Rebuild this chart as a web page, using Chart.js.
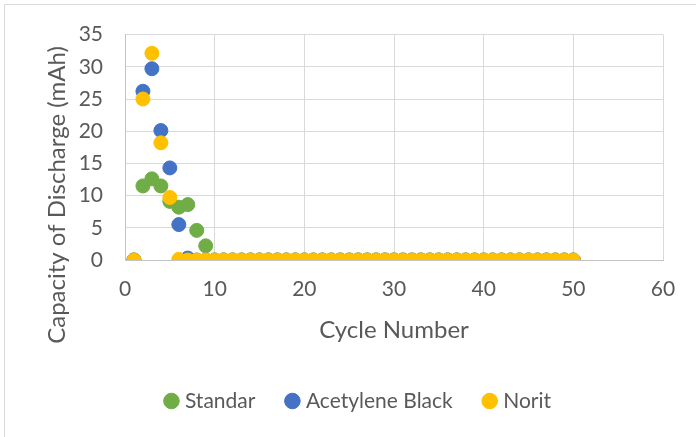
<!DOCTYPE html>
<html>
<head>
<meta charset="utf-8">
<title>Capacity of Discharge vs Cycle Number</title>
<script src="https://cdn.jsdelivr.net/npm/chart.js@4/dist/chart.umd.min.js"></script>
<style>
  html, body { margin: 0; padding: 0; background: #ffffff; }
  #wrap { width: 696px; height: 437px; }
</style>
</head>
<body>
<div id="wrap"><canvas id="chart" width="696" height="437"></canvas></div>
<script>
// Cycle numbers shared by all three cells
const cycles = [
   1,  2,  3,  4,  5,  6,  7,  8,  9, 10,
  11, 12, 13, 14, 15, 16, 17, 18, 19, 20,
  21, 22, 23, 24, 25, 26, 27, 28, 29, 30,
  31, 32, 33, 34, 35, 36, 37, 38, 39, 40,
  41, 42, 43, 44, 45, 46, 47, 48, 49, 50
];

// Discharge capacity (mAh) per cycle
const standar = [
  0, 11.5, 12.6, 11.5, 9.1, 8.2, 8.6, 4.6, 2.2, 0,
  0, 0, 0, 0, 0, 0, 0, 0, 0, 0,
  0, 0, 0, 0, 0, 0, 0, 0, 0, 0,
  0, 0, 0, 0, 0, 0, 0, 0, 0, 0,
  0, 0, 0, 0, 0, 0, 0, 0, 0, 0
];
const acetyleneBlack = [
  0, 26.2, 29.7, 20.1, 14.3, 5.5, 0.3, 0, 0, 0,
  0, 0, 0, 0, 0, 0, 0, 0, 0, 0,
  0, 0, 0, 0, 0, 0, 0, 0, 0, 0,
  0, 0, 0, 0, 0, 0, 0, 0, 0, 0,
  0, 0, 0, 0, 0, 0, 0, 0, 0, 0
];
const norit = [
  0, 25.0, 32.1, 18.2, 9.7, 0.1, 0, 0, 0, 0,
  0, 0, 0, 0, 0, 0, 0, 0, 0, 0,
  0, 0, 0, 0, 0, 0, 0, 0, 0, 0,
  0, 0, 0, 0, 0, 0, 0, 0, 0, 0,
  0, 0, 0, 0, 0, 0, 0, 0, 0, 0
];

const seriesNames = ['Standar', 'Acetylene Black', 'Norit'];
const seriesColors = ['#70AD47', '#4472C4', '#FFC000'];
const xTitle = 'Cycle Number';
const yTitle = 'Capacity of Discharge (mAh)';

const TEXT = '#595959';
const FONT = 'Lato';

function toPoints(values) {
  return cycles.map((c, i) => ({ x: c, y: values[i] }));
}

// White background and the thin frame around the chart
const framePlugin = {
  id: 'frame',
  beforeDraw(chart) {
    const { ctx, width, height } = chart;
    ctx.save();
    ctx.fillStyle = '#ffffff';
    ctx.fillRect(0, 0, width, height);
    ctx.strokeStyle = '#d9d9d9';
    ctx.lineWidth = 1;
    ctx.beginPath();
    ctx.moveTo(4.5, height);
    ctx.lineTo(4.5, 4.5);
    ctx.lineTo(width, 4.5);
    ctx.stroke();
    ctx.restore();
  }
};

// Axis titles
const titlesPlugin = {
  id: 'axisTitles',
  afterDraw(chart) {
    const { ctx } = chart;
    ctx.save();
    ctx.fillStyle = TEXT;
    ctx.font = '24px ' + FONT;
    ctx.textAlign = 'center';
    ctx.textBaseline = 'middle';
    ctx.fillText(xTitle, 394, 330);
    ctx.translate(57, 195);
    ctx.rotate(-Math.PI / 2);
    ctx.fillText(yTitle, 0, 0);
    ctx.restore();
  }
};

function build() {
  const datasets = [standar, acetyleneBlack, norit].map((vals, i) => ({
    label: seriesNames[i],
    data: toPoints(vals),
    backgroundColor: seriesColors[i],
    borderColor: seriesColors[i],
    borderWidth: 1,
    pointRadius: 7,
    pointHoverRadius: 7,
    pointStyle: 'circle',
    showLine: false,
    order: 3 - i
  }));

  new Chart(document.getElementById('chart'), {
    type: 'scatter',
    data: { datasets },
    options: {
      responsive: false,
      animation: false,
      devicePixelRatio: 1,
      layout: { padding: { left: 56.5, right: 33, top: 33, bottom: 15.5 } },
      plugins: {
        tooltip: { enabled: false },
        legend: {
          position: 'bottom',
          labels: {
            color: TEXT,
            font: { family: FONT, size: 21 },
            usePointStyle: true,
            pointStyle: 'circle',
            boxWidth: 6,
            boxHeight: 11,
            padding: 34,
            sort: (a, b) => a.datasetIndex - b.datasetIndex
          }
        }
      },
      scales: {
        x: {
          type: 'linear',
          min: 0,
          max: 60,
          ticks: {
            stepSize: 10,
            color: TEXT,
            font: { family: FONT, size: 21 },
            padding: 17
          },
          grid: { color: '#d9d9d9', lineWidth: 1, drawTicks: false },
          border: { display: true, color: '#c4c4c4' },
          afterFit(scale) { scale.height = 96.5; }
        },
        y: {
          type: 'linear',
          min: 0,
          max: 35,
          ticks: {
            stepSize: 5,
            color: TEXT,
            font: { family: FONT, size: 21 },
            padding: 22
          },
          grid: { color: '#d9d9d9', lineWidth: 1, drawTicks: false },
          border: { display: true, color: '#c4c4c4' },
          afterFit(scale) { scale.width = 68.5; }
        }
      }
    },
    plugins: [framePlugin, titlesPlugin]
  });
}

if (document.fonts && document.fonts.load) {
  document.fonts.load('21px ' + FONT).then(build, build);
} else {
  build();
}
</script>
</body>
</html>
